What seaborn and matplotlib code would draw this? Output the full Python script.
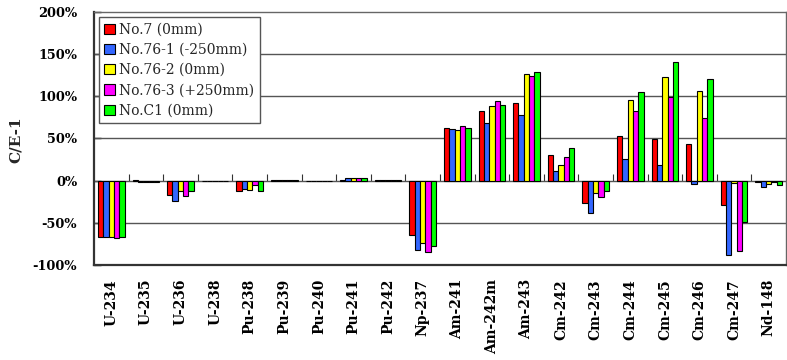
import numpy as np
import pandas as pd
import matplotlib
matplotlib.use("Agg")
import matplotlib.pyplot as plt
import seaborn as sns

nuclides = ["U-234", "U-235", "U-236", "U-238", "Pu-238", "Pu-239", "Pu-240",
            "Pu-241", "Pu-242", "Np-237", "Am-241", "Am-242m", "Am-243",
            "Cm-242", "Cm-243", "Cm-244", "Cm-245", "Cm-246", "Cm-247", "Nd-148"]

series_names = ["No.7 (0mm)", "No.76-1 (-250mm)", "No.76-2 (0mm)",
                "No.76-3 (+250mm)", "No.C1 (0mm)"]

# C/E-1 in percent, one list per sample
no7 = [-67, 0.5, -17, -0.3, -12.5, 0.5, -0.5, 0.8, 0.5, -65,
       62, 83, 92, 30, -26, 53, 49, 44, -29, -2]
no76_1 = [-67, -1, -24.5, -0.3, -9.5, 0.5, -0.5, 3, 0.5, -82,
          61, 68, 78, 12, -38.5, 26, 18, -3.5, -88, -8]
no76_2 = [-67, -1, -12, -0.3, -10.5, 0.5, -0.5, 3, 0.5, -74,
          60, 89, 126, 18.5, -15, 96, 123, 106, -3, -4]
no76_3 = [-68, -1, -18.5, -0.3, -5.5, 0.5, -0.5, 3, 0.5, -84,
          65, 95, 124, 28, -19, 83, 99, 74, -83, -2]
noC1 = [-67, -1, -12, -0.3, -11.7, 0.5, -0.5, 3, 0.5, -77,
        63, 90, 129, 39, -12.5, 105, 141, 120, -49, -5]

colors = ["#FF0000", "#3366FF", "#FFFF00", "#FF00FF", "#00FF00"]
yticks = [-100, -50, 0, 50, 100, 150, 200]

df = pd.DataFrame({
    "nuclide": np.tile(nuclides, 5),
    "series": np.repeat(series_names, len(nuclides)),
    "value": np.concatenate([no7, no76_1, no76_2, no76_3, noC1]),
})

sns.set_theme(style="white")
plt.rcParams["font.family"] = ["DejaVu Serif"]

fig = plt.figure(figsize=(7.87, 3.60), dpi=100)
ax = fig.add_axes([0.1194, 0.2639, 0.8793, 0.7028])
ax.set_axisbelow(True)

sns.barplot(data=df, x="nuclide", y="value", hue="series", order=nuclides,
            hue_order=series_names, palette=colors, saturation=1,
            width=0.77, gap=0, edgecolor="black", linewidth=0.8, ax=ax,
            errorbar=None, zorder=3)

ax.set_ylim(-100, 200)
ax.set_xlim(-0.5, len(nuclides) - 0.5)
ax.set_yticks(yticks)
ax.set_yticklabels([f"{v}%" for v in yticks], fontsize=9.3, fontweight="bold")
ax.set_xticks(range(len(nuclides)))
ax.set_xticklabels(nuclides, rotation=90, fontsize=10, fontweight="bold")
ax.tick_params(axis="x", length=0, pad=10, colors="black")
ax.tick_params(axis="y", direction="in", length=5, width=1, pad=12,
               left=True, colors="black")
ax.set_xlabel("")
ax.set_ylabel("C/E-1", fontsize=11, fontweight="bold")
ax.yaxis.set_label_coords(-0.1026, 0.497)

# horizontal gridlines
for v in yticks[1:-1]:
    ax.axhline(v, color="#555555", lw=1.0, zorder=1)

for side in ["left", "bottom"]:
    ax.spines[side].set_color("#333333")
    ax.spines[side].set_linewidth(1.6)
for side in ["top", "right"]:
    ax.spines[side].set_color("#666666")
    ax.spines[side].set_linewidth(1.0)

# category axis along the zero line with boundary ticks pointing upward
zero_frac = (0 - yticks[0]) / (yticks[-1] - yticks[0])
sec = ax.secondary_xaxis(zero_frac)
sec.set_xticks(np.arange(0.5, len(nuclides) - 0.5, 1.0))
sec.set_xticklabels([])
sec.tick_params(axis="x", direction="out", length=5, width=0.8,
                colors="#333333", top=True, bottom=False)
sec.xaxis.set_ticks_position("top")
sec.spines["top"].set_color("black")
sec.spines["top"].set_linewidth(1.2)
sec.spines["bottom"].set_visible(False)

leg = ax.legend(loc="upper left", bbox_to_anchor=(0.007, 0.98),
                borderaxespad=0, fontsize=10, frameon=True, fancybox=False,
                edgecolor="#555555", framealpha=1, handlelength=0.75,
                handleheight=0.75, handletextpad=0.3, labelspacing=0.45,
                borderpad=0.4)
leg.get_frame().set_linewidth(1.0)
for h in leg.legend_handles:
    h.set_edgecolor("black")
    h.set_linewidth(0.8)

fig.savefig("out.png", dpi=100)
